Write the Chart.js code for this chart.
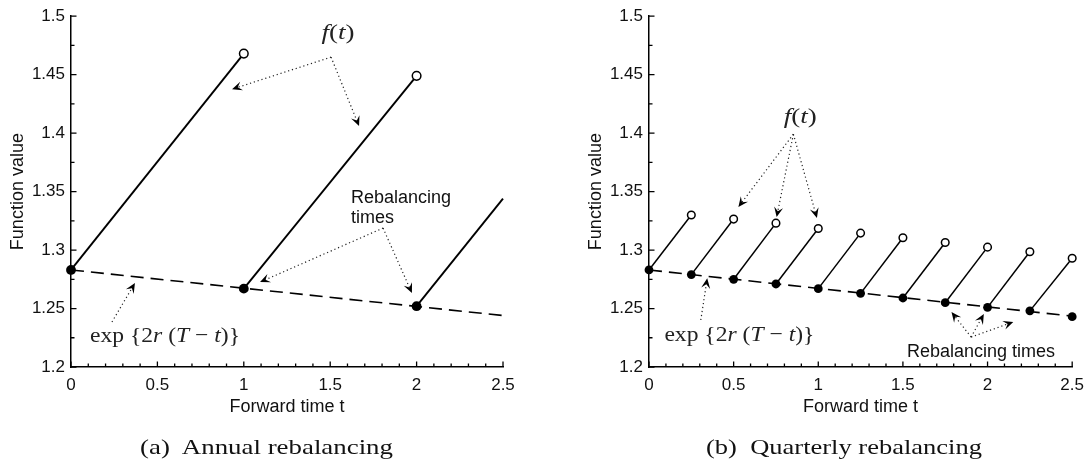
<!DOCTYPE html>
<html>
<head>
<meta charset="utf-8">
<script src="https://cdn.jsdelivr.net/npm/chart.js@4.4.0/dist/chart.umd.min.js"></script>
<style>
  html, body { margin: 0; padding: 0; background: #fff; }
  body { width: 1092px; height: 463px; position: relative; overflow: hidden; }
  .box { position: absolute; top: 0; height: 463px; }
  .caption { position: absolute; top: 434px; font-family: "Liberation Serif", serif; font-size: 22px;
             line-height: 26px; color: #111; white-space: nowrap; transform-origin: 0 0; }
</style>
</head>
<body>
<div class="box" style="left:0;width:546px"><canvas id="annual"></canvas></div>
<div class="box" style="left:578px;width:514px"><canvas id="quarterly"></canvas></div>
<div class="caption" id="capA">(a)&nbsp; Annual rebalancing</div>
<div class="caption" id="capB">(b)&nbsp; Quarterly rebalancing</div>
<script>
// (a) annual rebalancing
const annualStartT = [0, 1, 2];
const annualStartV = [1.283, 1.267, 1.252];
const annualEndT = [1, 2, 2.5];
const annualEndV = [1.468, 1.449, 1.344];
const annualEndOpen = [true, true, false];
const annualBaseT = [0, 2.5];
const annualBaseV = [1.283, 1.244];

// (b) quarterly rebalancing
const quarterStartT = [0, 0.25, 0.5, 0.75, 1, 1.25, 1.5, 1.75, 2, 2.25, 2.5];
const quarterStartV = [1.283, 1.279, 1.275, 1.271, 1.267, 1.263, 1.259, 1.255, 1.251, 1.248, 1.243];
const quarterEndT = [0.25, 0.5, 0.75, 1, 1.25, 1.5, 1.75, 2, 2.25, 2.5];
const quarterEndV = [1.330, 1.3265, 1.323, 1.3185, 1.3145, 1.3105, 1.3065, 1.3025, 1.2985, 1.293];
const quarterEndOpen = [true, true, true, true, true, true, true, true, true, true];
const quarterBaseT = [0, 2.5];
const quarterBaseV = [1.283, 1.2435];

const xTicks = [0, 0.5, 1, 1.5, 2, 2.5];
const yTicks = [1.2, 1.25, 1.3, 1.35, 1.4, 1.45, 1.5];

const SANS = '"Liberation Sans", Arial, sans-serif';
const SERIF = '"Liberation Serif", serif';

function buildDatasets(st, sv, et, ev, open, base, bv, r, lw) {
  const sets = [];
  st.forEach((t, i) => {
    if (i < et.length) {
      sets.push({
        data: [{x: t, y: sv[i]}, {x: et[i], y: ev[i]}],
        showLine: true, borderColor: '#000', borderWidth: lw,
        pointRadius: [r + 0.6, open[i] ? r : 0],
        pointBackgroundColor: ['#000', '#fff'],
        pointBorderColor: '#000', pointBorderWidth: [0, 1.5],
        clip: false, order: 1
      });
    } else {
      sets.push({
        data: [{x: t, y: sv[i]}], pointRadius: r + 0.6,
        pointBackgroundColor: '#000', pointBorderWidth: 0, clip: false, order: 1
      });
    }
  });
  sets.push({
    data: base.map((t, i) => ({x: t, y: bv[i]})),
    showLine: true, borderColor: '#000', borderWidth: 1.6, borderDash: [13, 7],
    pointRadius: 0, clip: false, order: 5
  });
  return sets;
}

function drawArrow(ctx, a, b) {
  const ang = Math.atan2(b[1] - a[1], b[0] - a[0]);
  const dx = Math.cos(ang), dy = Math.sin(ang);
  const len = 10, half = 4.5;
  ctx.setLineDash([1.2, 2.8]);
  ctx.lineWidth = 1.2;
  ctx.beginPath();
  ctx.moveTo(a[0], a[1]);
  ctx.lineTo(b[0] - dx * len * 0.6, b[1] - dy * len * 0.6);
  ctx.stroke();
  ctx.setLineDash([]);
  ctx.beginPath();
  ctx.moveTo(b[0], b[1]);
  ctx.lineTo(b[0] - dx * len - dy * half, b[1] - dy * len + dx * half);
  ctx.lineTo(b[0] - dx * len * 0.6, b[1] - dy * len * 0.6);
  ctx.lineTo(b[0] - dx * len + dy * half, b[1] - dy * len - dx * half);
  ctx.closePath();
  ctx.fill();
}

function drawMath(ctx, pieces, cx, cy, width) {
  const fontOf = it => (it ? 'italic ' : '') + '22px ' + SERIF;
  let w = 0;
  pieces.forEach(p => { ctx.font = fontOf(p[1]); w += ctx.measureText(p[0]).width; });
  const k = width / w;
  ctx.save();
  ctx.translate(cx - width / 2, cy);
  ctx.scale(k, 1);
  ctx.textBaseline = 'middle';
  ctx.textAlign = 'left';
  ctx.fillStyle = '#222';
  let xx = 0;
  pieces.forEach(p => {
    ctx.font = fontOf(p[1]);
    ctx.fillText(p[0], xx, 0);
    xx += ctx.measureText(p[0]).width;
  });
  ctx.restore();
}

const notesPlugin = {
  id: 'notes',
  afterDatasetsDraw(chart, args, opts) {
    const {ctx, chartArea, scales: {x, y}} = chart;
    const px = p => [x.getPixelForValue(p[0]), y.getPixelForValue(p[1])];
    ctx.save();
    // inward major and minor ticks
    ctx.strokeStyle = '#000';
    ctx.lineWidth = 1.3;
    ctx.beginPath();
    for (let i = 0; i < xTicks.length; i++) {
      const xp = x.getPixelForValue(xTicks[i]);
      ctx.moveTo(xp, chartArea.bottom); ctx.lineTo(xp, chartArea.bottom - 5.5);
      if (i < xTicks.length - 1) {
        for (let j = 1; j < 5; j++) {
          const m = x.getPixelForValue(xTicks[i] + (xTicks[i + 1] - xTicks[i]) * j / 5);
          ctx.moveTo(m, chartArea.bottom); ctx.lineTo(m, chartArea.bottom - 3.5);
        }
      }
    }
    for (let i = 0; i < yTicks.length; i++) {
      const yp = y.getPixelForValue(yTicks[i]);
      ctx.moveTo(chartArea.left, yp); ctx.lineTo(chartArea.left + 5.5, yp);
      if (i < yTicks.length - 1) {
        const m = y.getPixelForValue((yTicks[i] + yTicks[i + 1]) / 2);
        ctx.moveTo(chartArea.left, m); ctx.lineTo(chartArea.left + 3.5, m);
      }
    }
    ctx.stroke();
    // dotted pointer arrows
    ctx.strokeStyle = '#222';
    ctx.fillStyle = '#000';
    (opts.arrows || []).forEach(a => {
      const s = px(a.from);
      a.to.forEach(t => drawArrow(ctx, s, px(t)));
    });
    // labels
    (opts.math || []).forEach(m => {
      const p = px(m.at);
      drawMath(ctx, m.pieces, p[0], p[1], m.width);
    });
    ctx.fillStyle = '#111';
    ctx.font = '18px ' + SANS;
    ctx.textBaseline = 'middle';
    (opts.texts || []).forEach(t => {
      const p = px(t.at);
      ctx.textAlign = t.align;
      t.lines.forEach((line, i) => ctx.fillText(line, p[0], p[1] + i * 20));
    });
    ctx.restore();
  }
};

const FT = [['f', true], ['(', false], ['t', true], [')', false]];
const EXP = [['exp', false], [' {', false], ['2', false], ['r', true], [' (', false], ['T', true],
             [' \u2212 ', false], ['t', true], [')}', false]];

function makeChart(id, datasets, padRight, notes) {
  return new Chart(document.getElementById(id), {
    type: 'scatter',
    data: {datasets: datasets},
    plugins: [notesPlugin],
    options: {
      responsive: true,
      maintainAspectRatio: false,
      animation: false,
      layout: {padding: {left: 0, right: padRight, top: 16, bottom: 43}},
      plugins: {legend: {display: false}, tooltip: {enabled: false}, notes: notes},
      scales: {
        x: {
          type: 'linear', min: 0, max: 2.5,
          afterBuildTicks: s => { s.ticks = xTicks.map(v => ({value: v})); },
          afterFit: s => { s.height = 53; },
          grid: {display: false, drawTicks: false},
          border: {color: '#000', width: 1.5},
          ticks: {color: '#111', font: {family: SANS, size: 17}, padding: 8, maxRotation: 0,
                  callback: v => String(v)},
          title: {display: true, text: 'Forward time t', color: '#111',
                  font: {family: SANS, size: 18}, padding: {top: 0, bottom: 2}}
        },
        y: {
          type: 'linear', min: 1.2, max: 1.5,
          afterBuildTicks: s => { s.ticks = yTicks.map(v => ({value: v})); },
          afterFit: s => { s.width = 71; },
          grid: {display: false, drawTicks: false},
          border: {color: '#000', width: 1.5},
          ticks: {color: '#111', font: {family: SANS, size: 17}, padding: 6,
                  callback: v => String(v)},
          title: {display: true, text: 'Function value', color: '#111',
                  font: {family: SANS, size: 18}, padding: {top: 7, bottom: 0}}
        }
      }
    }
  });
}

makeChart('annual',
  buildDatasets(annualStartT, annualStartV, annualEndT, annualEndV, annualEndOpen,
                annualBaseT, annualBaseV, 4.3, 1.9),
  43,
  {
    arrows: [
      {from: [1.505, 1.465], to: [[0.932, 1.4376], [1.667, 1.406]]},
      {from: [1.806, 1.3188], to: [[1.094, 1.2726], [1.973, 1.2632]]},
      {from: [0.237, 1.2385], to: [[0.370, 1.2718]]}
    ],
    math: [
      {pieces: FT, at: [1.545, 1.4855], width: 33},
      {pieces: EXP, at: [0.544, 1.2265], width: 150}
    ],
    texts: [{lines: ['Rebalancing', 'times'], at: [1.62, 1.3444], align: 'left'}]
  });

makeChart('quarterly',
  buildDatasets(quarterStartT, quarterStartV, quarterEndT, quarterEndV, quarterEndOpen,
                quarterBaseT, quarterBaseV, 3.8, 1.5),
  12,
  {
    arrows: [
      {from: [0.853, 1.3991], to: [[0.528, 1.3368], [0.754, 1.3282], [0.992, 1.3274]]},
      {from: [1.903, 1.2256], to: [[1.787, 1.247], [1.978, 1.2453], [2.152, 1.2385]]},
      {from: [0.306, 1.2402], to: [[0.344, 1.2758]]}
    ],
    math: [
      {pieces: FT, at: [0.893, 1.4137], width: 33},
      {pieces: EXP, at: [0.534, 1.2274], width: 150}
    ],
    texts: [{lines: ['Rebalancing times'], at: [1.961, 1.2128], align: 'center'}]
  });

// fit the serif captions to the width they take in the original figure
function fitCaption(id, centre, width) {
  const el = document.getElementById(id);
  const w = el.getBoundingClientRect().width;
  const k = width / w;
  el.style.left = (centre - width / 2) + 'px';
  el.style.transform = 'scaleX(' + k + ')';
}
fitCaption('capA', 266.5, 253);
fitCaption('capB', 844, 276);
</script>
</body>
</html>
